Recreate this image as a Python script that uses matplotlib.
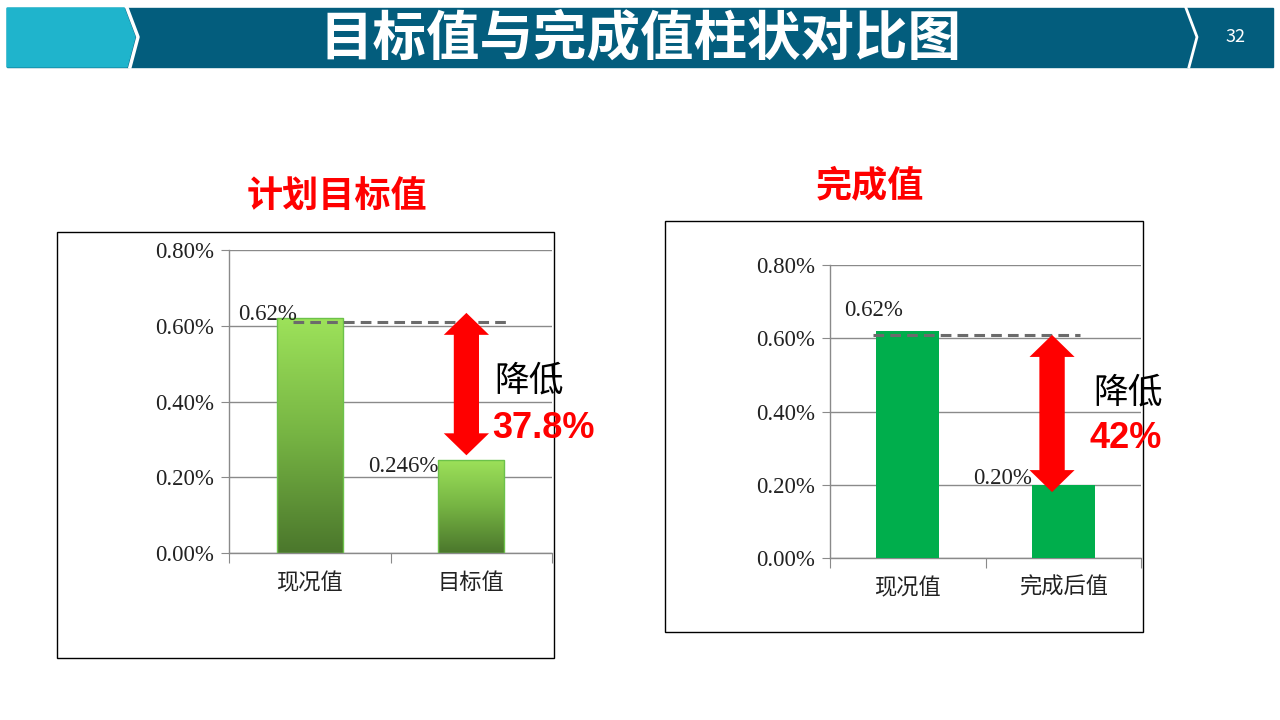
import numpy as np
import matplotlib.pyplot as plt
from matplotlib.patches import Rectangle, Polygon, FancyArrow
from matplotlib.colors import LinearSegmentedColormap

plt.rcParams['font.family'] = ['Noto Sans CJK SC', 'DejaVu Sans']

# data
page_title = "目标值与完成值柱状对比图"
page_no = "32"
titles = ["计划目标值", "完成值"]
cats_plan = ["现况值", "目标值"]
vals_plan = [0.62, 0.246]
labels_plan = ["0.62%", "0.246%"]
cats_done = ["现况值", "完成后值"]
vals_done = [0.62, 0.20]
labels_done = ["0.62%", "0.20%"]
ref_level = 0.61
drops = ["37.8%", "42%"]
yticks = [0.0, 0.2, 0.4, 0.6, 0.8]
ytick_labels = ["0.00%", "0.20%", "0.40%", "0.60%", "0.80%"]

W, H = 1280, 720
fig = plt.figure(figsize=(12.8, 7.2), dpi=100)
fig.patch.set_facecolor("white")

# header banner drawn in a pixel-space overlay
bg = fig.add_axes([0, 0, 1, 1])
bg.set_xlim(0, W)
bg.set_ylim(H, 0)
bg.axis("off")
bg.add_patch(Rectangle((7, 8), 1266, 59, color="#035d7d", zorder=1))
bg.add_patch(Polygon([(7, 8), (124, 8), (135, 37), (127, 67), (7, 67)],
                     closed=True, color="#1fb4cc", zorder=2))
bg.plot([127, 138, 130], [8, 37, 67], color="white", lw=2.5, zorder=3)
bg.plot([1186, 1197, 1189], [8, 37, 67], color="white", lw=2.0, zorder=3)
bg.text(640, 39, page_title, color="white", fontsize=38.5, fontweight="heavy",
        ha="center", va="center", zorder=4)
bg.text(1236, 37, page_no, color="white", fontsize=13, ha="center",
        va="center", zorder=4)

# outer frames and titles
bg.add_patch(Rectangle((57, 232), 497, 426, fill=False, ec="black", lw=1.0))
bg.add_patch(Rectangle((665, 221), 478, 411, fill=False, ec="black", lw=1.0))
bg.text(337, 197, titles[0], color="#ff0000", fontsize=26, fontweight="bold",
        ha="center", va="center")
bg.text(870, 186, titles[1], color="#ff0000", fontsize=26, fontweight="bold",
        ha="center", va="center")

grad = LinearSegmentedColormap.from_list("g", ["#4b772c", "#76b443", "#9de25a"])
serif = ["Liberation Serif", "DejaVu Serif"]


def setup(ax):
    ax.set_xlim(-0.5, 1.5)
    ax.set_ylim(0, 0.8)
    for s in ["top", "right"]:
        ax.spines[s].set_visible(False)
    for s in ["left", "bottom"]:
        ax.spines[s].set_color("#8a8a8a")
        ax.spines[s].set_linewidth(1.0)
    ax.set_yticks(yticks)
    ax.set_yticklabels(ytick_labels, family=serif, fontsize=16.5, color="#222222")
    ax.tick_params(axis="y", length=6, color="#8a8a8a", pad=5)
    ax.grid(axis="y", color="#8a8a8a", lw=1.0)
    ax.set_axisbelow(True)
    ax.set_xticks([-0.5, 0.5, 1.5])
    ax.set_xticklabels([])
    ax.tick_params(axis="x", which="major", length=7, color="#8a8a8a")


def double_arrow(ax, x, y_top, y_bot, sw, hw, hl):
    # two overlapping single-headed arrows, so no seam shows in the middle
    for start, end in ((y_bot + hl, y_top), (y_top - hl, y_bot)):
        ax.add_patch(FancyArrow(x, start, 0, end - start, width=sw,
                                head_width=hw, head_length=hl,
                                length_includes_head=True,
                                color="#ff0000", lw=0, zorder=5))


# left chart: planned target
ax1 = fig.add_axes([229 / W, 1 - 553 / H, 323 / W, 303 / H])
setup(ax1)
bars = ax1.bar([0, 1], vals_plan, width=0.41, color="none",
               edgecolor="#6cc24a", lw=1.0, zorder=3)
for b in bars:
    x0, w, h = b.get_x(), b.get_width(), b.get_height()
    im = ax1.imshow(np.linspace(0, 1, 256).reshape(-1, 1), cmap=grad,
                    origin="lower", aspect="auto",
                    extent=[x0, x0 + w, 0, h], zorder=2)
    im.set_clip_path(b)
ax1.set_xlim(-0.5, 1.5)
ax1.set_ylim(0, 0.8)
ax1.set_xticks([0, 1], minor=True)
ax1.set_xticklabels(cats_plan, minor=True, fontsize=16, color="#222222")
ax1.tick_params(axis="x", which="minor", length=0, pad=13)
ax1.plot([-0.104, 1.227], [ref_level, ref_level], ls=(0, (3.5, 2)),
         color="#6b6b6b", lw=2.2, zorder=4, clip_on=False)
ax1.text(-0.079, 0.631, labels_plan[0], family=serif, fontsize=16.5,
         ha="right", va="center", color="#222222", zorder=6)
ax1.text(0.80, 0.2297, labels_plan[1], family=serif, fontsize=16.5,
         ha="right", va="center", color="#222222", zorder=6)
double_arrow(ax1, 0.97, 0.634, 0.258, 0.155, 0.28, 0.058)
ax1.text(1.141, 0.454, "降低", fontsize=25, ha="left", va="center",
         color="black", clip_on=False, zorder=6)
ax1.text(1.128, 0.330, drops[0], family=["Liberation Sans", "DejaVu Sans"],
         fontsize=26, fontweight="bold", ha="left", va="center",
         color="#ff0000", clip_on=False, zorder=6)

# right chart: achieved
ax2 = fig.add_axes([830 / W, 1 - 558 / H, 311 / W, 293 / H])
setup(ax2)
ax2.bar([0, 1], vals_done, width=0.405, color="#00ae4c", zorder=3)
ax2.set_xticks([0, 1], minor=True)
ax2.set_xticklabels(cats_done, minor=True, fontsize=16, color="#222222")
ax2.tick_params(axis="x", which="minor", length=0, pad=13)
ax2.plot([-0.223, 1.108], [ref_level, ref_level], ls=(0, (3.5, 2)),
         color="#6b6b6b", lw=2.2, zorder=4, clip_on=False)
ax2.text(-0.031, 0.677, labels_done[0], family=serif, fontsize=16.5,
         ha="right", va="center", color="#222222", zorder=6)
ax2.text(0.799, 0.218, labels_done[1], family=serif, fontsize=16.5,
         ha="right", va="center", color="#222222", zorder=6)
double_arrow(ax2, 0.928, 0.609, 0.18, 0.16, 0.29, 0.06)
ax2.text(1.191, 0.4505, "降低", fontsize=25, ha="left", va="center",
         color="black", clip_on=False, zorder=6)
ax2.text(1.172, 0.3276, drops[1], family=["Liberation Sans", "DejaVu Sans"],
         fontsize=26, fontweight="bold", ha="left", va="center",
         color="#ff0000", clip_on=False, zorder=6)

fig.savefig("out.png", dpi=100)
